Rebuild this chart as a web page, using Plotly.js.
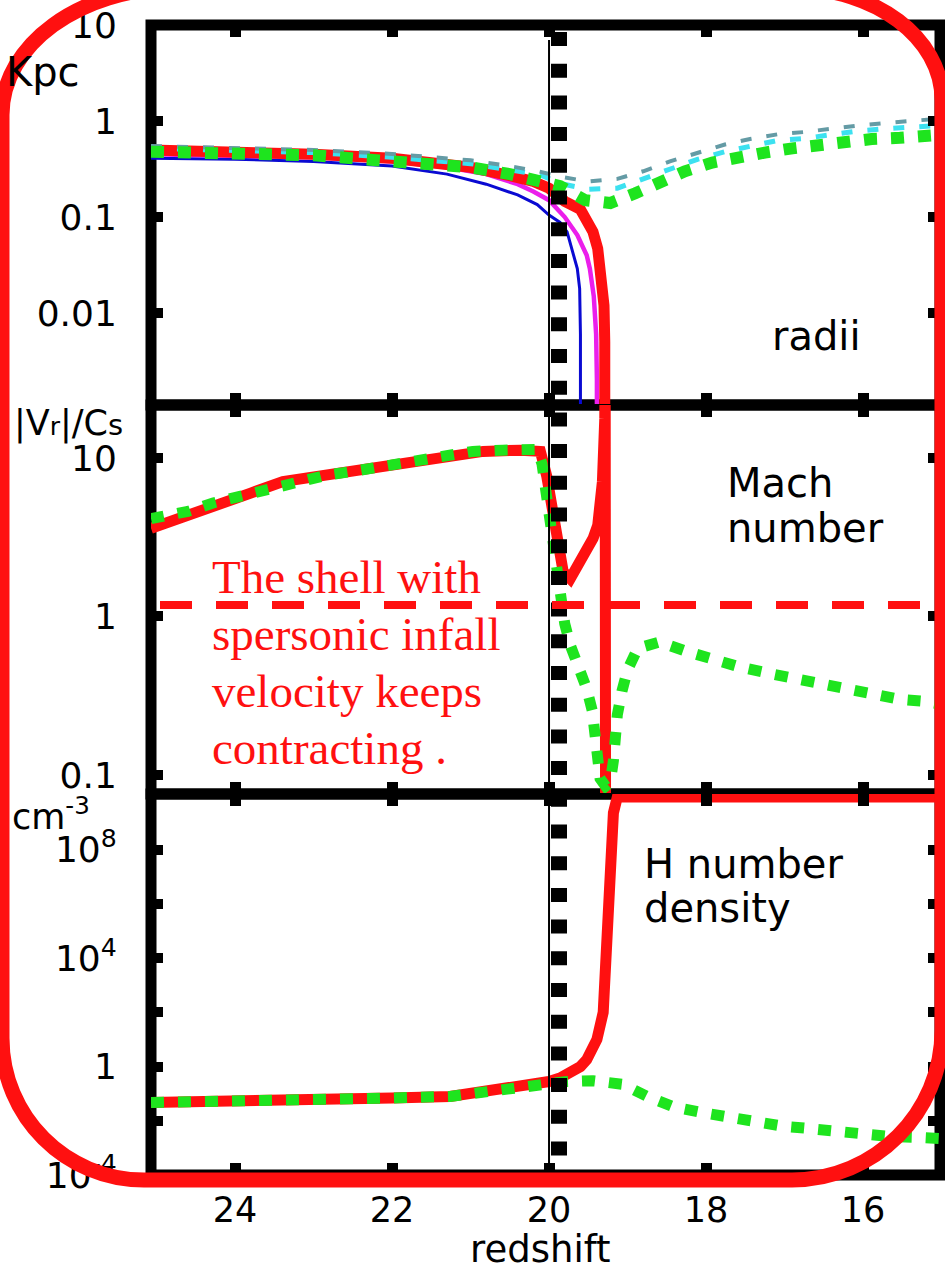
<!DOCTYPE html>
<html>
<head>
<meta charset="utf-8">
<script src="https://cdn.plot.ly/plotly-3.0.1.min.js"></script>
<style>
  html, body { margin: 0; padding: 0; background: #fff; }
  #chart { width: 945px; height: 1272px; }
</style>
</head>
<body>
<div id="chart"></div>
<script>
// ---------------- data ----------------
// x axis: redshift
const xTickVals = [24, 22, 20, 18, 16];
const xTickText = ['24', '22', '20', '18', '16'];

// Panel 1 : radii [kpc]
const zBlue = [25.07, 24.0, 23.0, 22.0, 21.3, 20.8, 20.4, 20.15, 20.0, 19.86, 19.77, 19.7, 19.64, 19.61, 19.60, 19.60];
const rBlue = [0.41, 0.40, 0.38, 0.34, 0.28, 0.22, 0.17, 0.135, 0.105, 0.088, 0.07, 0.045, 0.029, 0.018, 0.006, 0.0008];

const zMagenta = [25.07, 24.0, 23.0, 22.0, 21.3, 20.8, 20.4, 20.2, 20.0, 19.8, 19.64, 19.52, 19.48, 19.43, 19.40, 19.39, 19.39];
const rMagenta = [0.45, 0.44, 0.42, 0.38, 0.33, 0.28, 0.22, 0.185, 0.15, 0.1, 0.065, 0.04, 0.029, 0.015, 0.006, 0.002, 0.0008];

const zRedR = [25.07, 24.0, 23.0, 22.0, 21.5, 21.0, 20.5, 20.2, 20.0, 19.8, 19.6, 19.52, 19.44, 19.38, 19.33, 19.30, 19.29, 19.29];
const rRedR = [0.5, 0.48, 0.45, 0.41, 0.37, 0.33, 0.27, 0.235, 0.2, 0.146, 0.12, 0.097, 0.07, 0.047, 0.025, 0.012, 0.005, 0.0008];

const zGray = [25.07, 24.0, 23.0, 22.0, 21.0, 20.5, 20.14, 19.82, 19.5, 19.13, 18.8, 18.46, 18.11, 17.76, 17.44, 17.08, 16.74, 16.39, 16.06, 15.75, 15.4, 15.02];
const rGray = [0.55, 0.53, 0.5, 0.455, 0.39, 0.34, 0.3, 0.26, 0.235, 0.25, 0.3, 0.38, 0.47, 0.57, 0.65, 0.73, 0.77, 0.84, 0.9, 0.95, 1.0, 1.06];

const zCyan = [25.07, 24.0, 23.0, 22.0, 21.0, 20.5, 20.14, 19.82, 19.5, 19.13, 18.8, 18.46, 18.11, 17.76, 17.44, 17.08, 16.74, 16.39, 16.06, 15.75, 15.4, 15.02];
const rCyan = [0.52, 0.5, 0.47, 0.42, 0.36, 0.31, 0.28, 0.22, 0.195, 0.2, 0.25, 0.32, 0.4, 0.48, 0.55, 0.63, 0.66, 0.73, 0.79, 0.83, 0.87, 0.9];

const zGreenR = [25.07, 24.0, 23.0, 22.0, 21.0, 20.5, 20.14, 19.86, 19.54, 19.22, 18.9, 18.59, 18.27, 17.92, 17.59, 17.25, 16.9, 16.57, 16.23, 15.89, 15.53, 15.18, 15.02];
const rGreenR = [0.48, 0.47, 0.44, 0.38, 0.33, 0.28, 0.235, 0.21, 0.15, 0.14, 0.177, 0.235, 0.3, 0.37, 0.43, 0.47, 0.52, 0.57, 0.6, 0.65, 0.67, 0.71, 0.72];

// Panel 2 : Mach number |Vr|/cs
const zRedM = [25.07, 24.66, 24.2, 23.8, 23.39, 22.54, 21.68, 20.84, 20.37, 20.2, 20.11, 20.03, 19.96, 19.9, 19.82, 19.73, 19.57, 19.44, 19.38, 19.32, 19.29, 19.285, 19.28];
const mRedM = [3.6, 4.3, 5.1, 6.0, 7.1, 8.2, 9.5, 11, 11.2, 11.2, 11, 7.7, 4.8, 2.8, 1.92, 1.73, 2.3, 3.1, 3.75, 7.1, 17.7, 40, 0.05];

const zGreenM = [25.07, 24.6, 24.28, 23.9, 23.55, 23.2, 22.83, 22.45, 22.06, 21.7, 21.35, 20.97, 20.59, 20.24, 20.15, 20.09, 20.05, 20.01, 19.96, 19.92, 19.86, 19.8, 19.73, 19.63, 19.52, 19.45, 19.41, 19.39, 19.35, 19.28, 19.22, 19.18, 19.16, 19.13, 19.07, 19.0, 18.87, 18.59, 18.24, 17.91, 17.57, 17.22, 16.89, 16.55, 16.2, 15.87, 15.53, 15.18, 15.02];
const mGreenM = [4.15, 4.6, 5.2, 5.8, 6.6, 7.2, 7.8, 8.3, 8.9, 9.5, 10.2, 11, 11.2, 11.5, 11.3, 9.2, 6.6, 4.8, 3.4, 2.4, 1.26, 0.9, 0.66, 0.49, 0.35, 0.255, 0.19, 0.13, 0.095, 0.085, 0.09, 0.123, 0.175, 0.24, 0.34, 0.46, 0.63, 0.69, 0.6, 0.53, 0.48, 0.44, 0.41, 0.38, 0.35, 0.33, 0.30, 0.29, 0.28];

// Panel 3 : H number density [cm^-3]
const zRedD = [25.07, 24.0, 22.96, 22.0, 21.26, 20.62, 20.2, 20.0, 19.86, 19.73, 19.6, 19.52, 19.45, 19.39, 19.31, 19.26, 19.22, 19.18, 19.13, 15.02];
const nRedD = [0.047, 0.05, 0.06, 0.069, 0.079, 0.14, 0.22, 0.28, 0.38, 0.6, 1.0, 1.8, 4, 10, 100, 2.7e4, 8e6, 2.3e9, 8.9e9, 8.9e9];

const zGreenD = [25.07, 24.0, 22.96, 22.0, 21.26, 20.62, 20.2, 20.0, 19.77, 19.44, 19.06, 18.75, 18.42, 18.05, 17.69, 17.35, 17.02, 16.67, 16.33, 16.0, 15.66, 15.27, 15.02];
const nGreenD = [0.047, 0.05, 0.06, 0.069, 0.079, 0.14, 0.22, 0.28, 0.28, 0.3, 0.22, 0.079, 0.033, 0.02, 0.013, 0.0085, 0.0063, 0.0051, 0.004, 0.0034, 0.0026, 0.0024, 0.0022];

// tick labels for the three y axes
const yTickVals1 = [10, 1, 0.1, 0.01];
const yTickText1 = ['10', '1', '0.1', '0.01'];
const yTickVals2 = [10, 1, 0.1];
const yTickText2 = ['10', '1', '0.1'];
const yTickVals3 = [1e-4, 1, 1e4, 1e8];
const yTickText3 = ['10<sup>-4</sup>', '1', '10<sup>4</sup>', '10<sup>8</sup>'];
const yMinorVals3 = [1e-2, 1e2, 1e6];

const markerZ = 19.873;   // thick dotted vertical marker
const refZ = 20;          // thin vertical line

// ---------------- styling ----------------
const RED = 'rgb(255,16,16)';
const GREEN = 'rgb(30,228,30)';
const FONT = 'DejaVu Sans, Arial, sans-serif';

function tr(x, y, ax, color, width, dash) {
  return {
    x: x, y: y, xaxis: ax[0], yaxis: ax[1], type: 'scatter', mode: 'lines',
    line: { color: color, width: width, dash: dash || 'solid' },
    hoverinfo: 'skip', showlegend: false
  };
}
const P1 = ['x', 'y'], P2 = ['x2', 'y2'], P3 = ['x3', 'y3'];
const greenDash = '13px,14px';
const data = [
  tr(zBlue, rBlue, P1, 'rgb(10,10,210)', 3),
  tr(zMagenta, rMagenta, P1, 'rgb(235,30,235)', 4.5),
  tr(zRedR, rRedR, P1, RED, 11),
  tr(zCyan, rCyan, P1, 'rgb(60,225,240)', 5, '11px,15px'),
  tr(zGray, rGray, P1, 'rgb(100,155,165)', 4, '11px,15px'),
  tr(zGreenR, rGreenR, P1, GREEN, 12, greenDash),

  tr(zRedM, mRedM, P2, RED, 11),
  tr(zGreenM, mGreenM, P2, GREEN, 11, greenDash),

  tr(zRedD, nRedD, P3, RED, 11),
  tr(zGreenD, nGreenD, P3, GREEN, 11, greenDash)
];

// geometry (pixels) -> plot
const W = 945, H = 1272;
const ML = 151, MR = 5, MT = 25, MB = 97;
const PW = W - ML - MR, PH = H - MT - MB;
function px(x) { return (x - ML) / PW; }
function py(y) { return (H - MB - y) / PH; }

const d1 = [py(405), 1], d2 = [py(794), py(405)], d3 = [0, py(794)];

const tickFont = { family: FONT, size: 36, color: '#000' };
function xax(anchor, labels) {
  const a = {
    anchor: anchor, range: [25.07, 15.02],
    tickmode: 'array', tickvals: xTickVals, ticktext: xTickText,
    ticks: 'inside', ticklen: 12, tickwidth: 11, tickcolor: '#000',
    showline: true, linewidth: 1, linecolor: '#000', mirror: 'ticks',
    showgrid: false, zeroline: false, showticklabels: labels,
    tickfont: { family: FONT, size: 35, color: '#000' }, ticklabelstandoff: 4,
    fixedrange: true
  };
  if (anchor !== 'y') a.matches = 'x';
  return a;
}
function yax(anchor, domain, range, vals, text, minorVals) {
  const a = {
    anchor: anchor, domain: domain, type: 'log', range: range,
    tickmode: 'array', tickvals: vals, ticktext: text,
    ticks: 'inside', ticklen: 12, tickwidth: 10, tickcolor: '#000',
    showline: true, linewidth: 1, linecolor: '#000', mirror: 'ticks',
    showgrid: false, zeroline: false, tickfont: tickFont, ticklabelstandoff: 26,
    fixedrange: true
  };
  if (minorVals) {
    a.minor = { tickmode: 'array', tickvals: minorVals, ticks: 'inside', ticklen: 12, tickwidth: 10, tickcolor: '#000', showgrid: false };
  }
  return a;
}

// rounded red frame drawn by the annotator (pixel outline -> paper path)
function roundedFramePath() {
  const L = 2, R = 942, T = -12, B = 1180, k = 0.5523;
  const tl = [174, 127], tr2 = [149, 112], br = [150, 150], bl = [142, 142];
  const pts = [
    ['M', [L, T + tl[1]]],
    ['C', [L, T + tl[1] - k * tl[1]], [L + tl[0] - k * tl[0], T], [L + tl[0], T]],
    ['L', [R - tr2[0], T]],
    ['C', [R - tr2[0] + k * tr2[0], T], [R, T + tr2[1] - k * tr2[1]], [R, T + tr2[1]]],
    ['L', [R, B - br[1]]],
    ['C', [R, B - br[1] + k * br[1]], [R - br[0] + k * br[0], B], [R - br[0], B]],
    ['L', [L + bl[0], B]],
    ['C', [L + bl[0] - k * bl[0], B], [L, B - bl[1] + k * bl[1]], [L, B - bl[1]]],
    ['Z']
  ];
  return pts.map(p => p[0] + (p.length > 1 ? ' ' + p.slice(1).map(q => px(q[0]).toFixed(5) + ',' + py(q[1]).toFixed(5)).join(' ') : '')).join(' ');
}

const frameLine = { color: '#000', width: 11 };
const shapes = [
  { type: 'rect', xref: 'paper', yref: 'paper', x0: 0, x1: 1, y0: d1[0], y1: d1[1], line: frameLine, layer: 'below' },
  { type: 'rect', xref: 'paper', yref: 'paper', x0: 0, x1: 1, y0: d2[0], y1: d2[1], line: frameLine, layer: 'below' },
  { type: 'rect', xref: 'paper', yref: 'paper', x0: 0, x1: 1, y0: d3[0], y1: d3[1], line: frameLine, layer: 'below' },
  { type: 'line', xref: 'x', yref: 'paper', x0: refZ, x1: refZ, y0: py(40), y1: py(1175), line: { color: '#000', width: 2 } },
  { type: 'line', xref: 'x', yref: 'paper', x0: markerZ, x1: markerZ, y0: py(32), y1: py(1172), line: { color: '#000', width: 16, dash: '14px,17.7px' } },
  { type: 'line', xref: 'paper', yref: 'paper', x0: px(160), x1: px(920), y0: py(605), y1: py(605), line: { color: RED, width: 8, dash: '32px,24px' } },
  { type: 'path', xref: 'paper', yref: 'paper', path: roundedFramePath(), line: { color: RED, width: 15 }, fillcolor: 'rgba(0,0,0,0)' }
];

function note(text, x, y, size, family, color, xanchor) {
  return {
    text: text, xref: 'paper', yref: 'paper', x: px(x), y: py(y),
    xanchor: xanchor || 'left', yanchor: 'middle', showarrow: false,
    font: { family: family || FONT, size: size, color: color || '#000' }
  };
}
const SERIF = 'Liberation Serif, Times New Roman, serif';
const annotations = [
  note('Kpc', 4, 72, 40),
  note('|V<span style="font-size:25px">r</span>|/C<span style="font-size:29px">s</span>', 12, 423, 35),
  note('cm<sup>-3</sup>', 10, 814, 35),
  note('radii', 770, 336, 40),
  note('Mach', 725, 483, 40),
  note('number', 725, 528, 40),
  note('H number', 642, 864, 40),
  note('density', 642, 908, 40),
  note('redshift', 540, 1249, 37, FONT, '#000', 'center'),
  note('The shell with', 210, 577, 47, SERIF, RED),
  note('spersonic infall', 210, 634, 47, SERIF, RED),
  note('velocity keeps', 210, 691, 47, SERIF, RED),
  note('contracting .', 210, 748, 47, SERIF, RED)
];

const layout = {
  width: W, height: H,
  margin: { l: ML, r: MR, t: MT, b: MB, pad: 0 },
  paper_bgcolor: '#fff', plot_bgcolor: '#fff',
  font: { family: FONT, color: '#000' },
  showlegend: false,
  xaxis: xax('y', false),
  xaxis2: xax('y2', false),
  xaxis3: xax('y3', true),
  yaxis: yax('x', d1, [-2.958, 1.001], yTickVals1, yTickText1),
  yaxis2: yax('x2', d2, [-1.12, 1.334], yTickVals2, yTickText2),
  yaxis3: yax('x3', d3, [-4.003, 10.06], yTickVals3, yTickText3, yMinorVals3),
  shapes: shapes,
  annotations: annotations
};

Plotly.newPlot('chart', data, layout, { staticPlot: true, displayModeBar: false });
</script>
</body>
</html>
